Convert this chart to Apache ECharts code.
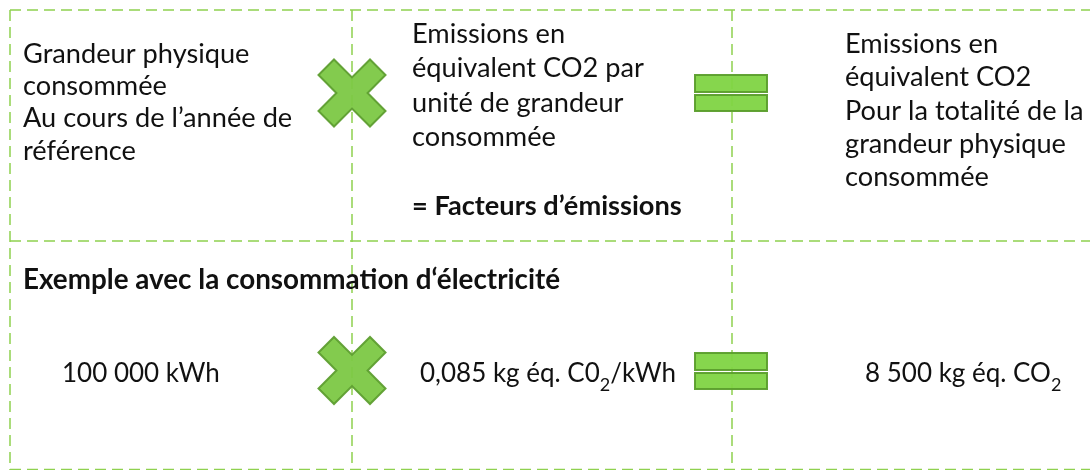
<!DOCTYPE html>
<html>
<head>
<meta charset="utf-8">
<script src="https://cdn.jsdelivr.net/npm/echarts@6/dist/echarts.min.js"></script>
<style>
    html, body { margin: 0; padding: 0; background: #fff; }
    #main { width: 1090px; height: 470px; }
</style>
</head>
<body>
<div id="main"></div>
<script>
    // textes du schéma
    var grandeurLines = ['Grandeur physique', 'consommée', 'Au cours de l’année de', 'référence'];
    var facteurLines = ['Emissions en', 'équivalent CO2 par', 'unité de grandeur', 'consommée'];
    var facteurNote = '= Facteurs d’émissions';
    var totalLines = ['Emissions en', 'équivalent CO2', 'Pour la totalité de la', 'grandeur physique', 'consommée'];
    var exempleTitre = 'Exemple avec la consommation d‘électricité';
    var exempleValeurs = ['100 000 kWh', '0,085 kg éq. C0{sub|2}/kWh', '8 500 kg éq. CO{sub|2}'];

    var FONT = 'Lato';
    var SIZE = 27.2;
    var VERT = '#8fd14f';
    var TXT = '#111';

    function textLine(str, x, baseline, bold, size) {
        size = size || SIZE;
        return {
            type: 'text',
            z: 10,
            style: {
                text: str,
                x: x,
                y: baseline - size * 0.34,
                fill: TXT,
                font: (bold ? 'bold ' : '') + size + 'px "' + FONT + '"',
                verticalAlign: 'middle'
            }
        };
    }

    function block(lines, x, firstBaseline, gap) {
        return lines.map(function (l, i) {
            return textLine(l, x, firstBaseline + i * gap, false);
        });
    }

    // croix de multiplication
    function croix(cx, cy) {
        var h = 33.5, e = 18, v = 15.6;
        var pts = [[0, -v], [e, -h], [h, -e], [v, 0], [h, e], [e, h], [0, v], [-e, h], [-h, e], [-v, 0], [-h, -e], [-e, -h]];
        return {
            type: 'polygon',
            z: 5,
            shape: { points: pts.map(function (p) { return [cx + p[0], cy + p[1]]; }) },
            style: { fill: '#7cc845', stroke: '#5e9e30', lineWidth: 2, opacity: 0.95 }
        };
    }

    // signe égal
    function egal(x, y) {
        return [
            { type: 'rect', z: 5, shape: { x: x, y: y, width: 72, height: 17 },
              style: { fill: '#80d443', stroke: '#5b9e2c', lineWidth: 2, opacity: 0.95 } },
            { type: 'rect', z: 5, shape: { x: x, y: y + 20, width: 72, height: 16 },
              style: { fill: '#80d443', stroke: '#5b9e2c', lineWidth: 2, opacity: 0.95 } }
        ];
    }

    function trait(x1, y1, x2, y2) {
        return {
            type: 'line',
            z: 1,
            shape: { x1: x1, y1: y1, x2: x2, y2: y2 },
            style: { stroke: VERT, lineWidth: 1.5, lineDash: [11, 6] }
        };
    }

    var elements = [];
    // quadrillage pointillé
    elements.push(trait(10, 10, 1090, 10));
    elements.push(trait(10, 241, 1090, 241));
    elements.push(trait(10, 469.5, 1090, 469.5));
    elements.push(trait(10, 10, 10, 470));
    elements.push(trait(352, 10, 352, 470));
    elements.push(trait(732, 10, 732, 470));

    elements = elements.concat(block(grandeurLines, 23, 63, 32.4));
    elements = elements.concat(block(facteurLines, 412, 43.5, 34.4));
    elements.push(textLine(facteurNote, 412, 215, true));
    elements = elements.concat(block(totalLines, 845, 53.5, 33.3));
    elements.push(textLine(exempleTitre, 23, 289, true, 27.8));

    elements.push(croix(352, 93));
    elements.push(croix(352, 370.5));
    elements = elements.concat(egal(695, 75));
    elements = elements.concat(egal(695, 353));

    // ligne d'exemple chiffré
    var xs = [62, 420, 865];
    exempleValeurs.forEach(function (v, i) {
        elements.push({
            type: 'text',
            z: 10,
            style: {
                text: v,
                x: xs[i],
                y: 384 - 30,
                fill: TXT,
                font: '26px "' + FONT + '"',
                verticalAlign: 'top',
                lineHeight: 40,
                rich: {
                    sub: { fontSize: 18, fontFamily: FONT, fill: TXT, verticalAlign: 'bottom', lineHeight: 20 }
                }
            }
        });
    });

    var chart = echarts.init(document.getElementById('main'));
    chart.setOption({
        backgroundColor: '#fff',
        animation: false,
        graphic: { elements: elements }
    });
</script>
</body>
</html>
